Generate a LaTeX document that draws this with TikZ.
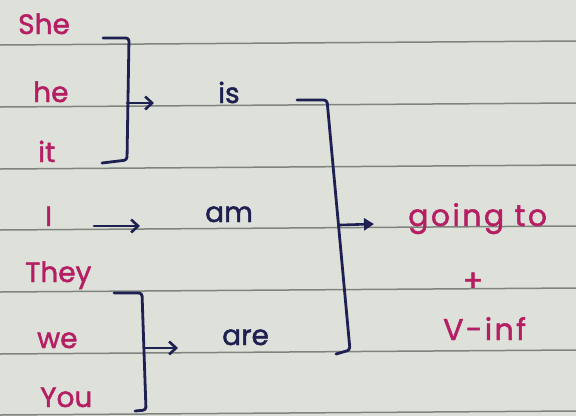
\documentclass[tikz,border=0pt]{standalone}
\usepackage{fontspec}
\setmainfont{Poppins}[FakeBold=1.6]
\newfontfamily\widefont{Poppins}[FakeBold=1.6,LetterSpace=8]
\usetikzlibrary{arrows.meta}
\definecolor{paper}{HTML}{DDE1DA}
\definecolor{rule}{HTML}{7F847F}
\definecolor{pen}{HTML}{B51E62}
\definecolor{ink}{HTML}{1D2050}
\tikzset{
  pron/.style={text=pen,font=\fontsize{28}{30}\selectfont,inner sep=0pt,anchor=base west},
  res/.style={text=pen,font=\widefont\fontsize{30}{32}\selectfont,inner sep=0pt,anchor=base west},
  verb/.style={text=ink,font=\fontsize{28}{30}\selectfont,inner sep=0pt,anchor=base west},
  brk/.style={draw=ink,line width=2.8pt,line cap=round,line join=round,rounded corners=3pt},
  arr/.style={draw=ink,line width=2.6pt,line cap=round,-{Straight Barb[length=7pt,width=13pt,line width=2.6pt]}},
  bigarr/.style={draw=ink,line width=2.6pt,-{Triangle[length=10pt,width=12pt]}},
  ruling/.style={draw=rule,line width=1.5pt}
}
\begin{document}
\begin{tikzpicture}[x=1pt,y=-1pt]
\fill[paper] (0,0) rectangle (576,416);
\useasboundingbox (0,0) rectangle (576,416);
% paper rulings
\foreach \y in {43,105,167,228,290,352,413}
  \draw[ruling] (0,\y+2) -- (576,\y-2);
% pronouns
\node[pron] (she) at (18,34) {She};
\node[pron] (he) at (33,102) {he};
\node[pron] (it) at (38,162) {it};
\node[pron] (I) at (45,226) {I};
\node[pron] (they) at (25,282) {They};
\node[pron] (we) at (37,348) {we};
\node[pron] (you) at (40,407) {You};
% verbs
\node[verb] (is) at (218,103) {is};
\node[verb] (am) at (205,222) {am};
\node[verb] (are) at (222,345) {are};
% result
\node[res] (goingto) at (408,226) {going to};
\node[res,anchor=center] (plus) at (473,282) {+};
\node[res] (vinf) at (443,340) {V-inf};
% bracket 1
\coordinate (b1t) at (103,38);
\coordinate (b1m) at (127,103);
\draw[brk] (b1t) -- (129,38) -- (127,160) -- (102,163);
\coordinate (a1) at (154,103);
\draw[arr] (b1m) -- (a1);
% I arrow
\coordinate (i1) at (94,226);
\coordinate (i2) at (140,226);
\draw[arr] (i1) -- (i2);
% bracket 2
\coordinate (b2m) at (145,348);
\draw[brk] (114,293) -- (142,293) -- (146,410) -- (135,411);
\coordinate (a2) at (178,348);
\draw[arr] (b2m) -- (a2);
% big bracket
\coordinate (b3m) at (340,225);
\draw[brk] (297,100) -- (327,100) -- (350,350) -- (336,354);
\coordinate (a3) at (374,224);
\draw[bigarr] (b3m) -- (a3);
\end{tikzpicture}
\end{document}
